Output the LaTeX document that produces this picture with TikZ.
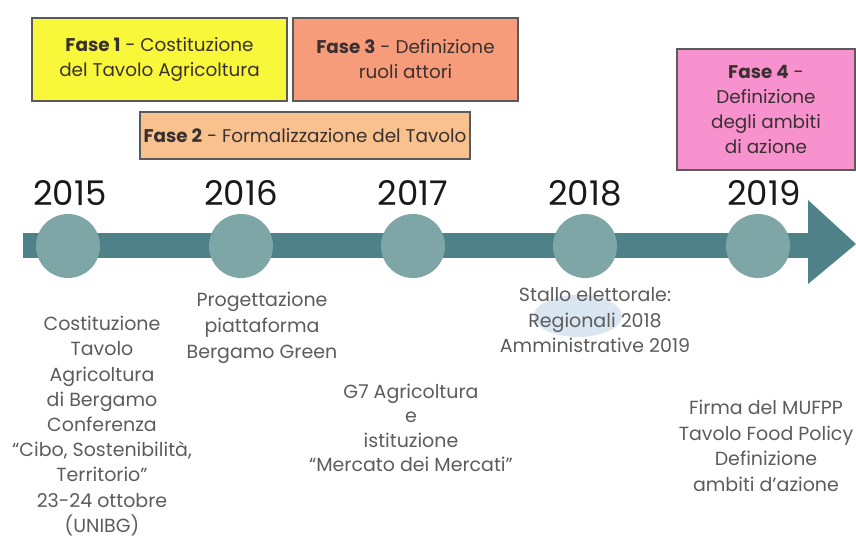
\documentclass[tikz,border=0pt]{standalone}
\usepackage{fontspec}
\setmainfont{Poppins}
\usetikzlibrary{shapes.geometric}
\definecolor{barcol}{HTML}{4F8189}
\definecolor{dotcol}{HTML}{7FA6A6}
\definecolor{yel}{HTML}{F8F73A}
\definecolor{salmon}{HTML}{F79C7A}
\definecolor{peach}{HTML}{F8C18E}
\definecolor{pinkc}{HTML}{F792CF}
\definecolor{boxline}{HTML}{5A5A5A}
\definecolor{txt}{HTML}{5C5C5C}
\definecolor{boxtxt}{HTML}{3A3030}
\definecolor{blob}{HTML}{D3E0F0}
\tikzset{
  phase/.style={draw=boxline, line width=1.4pt, inner sep=0pt, align=center, text=boxtxt, font=\fontsize{18.4}{25}\selectfont},
  year/.style={font=\fontsize{34}{34}\selectfont, text=black!90},
  dot/.style={circle, fill=dotcol, minimum size=64pt, inner sep=0pt},
  note/.style={align=center, text=txt, font=\fontsize{19}{25.8}\selectfont, inner sep=0pt}
}
\begin{document}
\begin{tikzpicture}[x=1pt,y=-1pt]
\useasboundingbox (0,0) rectangle (856,543);
\fill[white] (0,0) rectangle (856,543);
% phase boxes
\node[phase, fill=yel, minimum width=255pt, minimum height=83pt] (f1) at (159.5,59.5) {\textbf{Fase 1} - Costituzione\\del Tavolo Agricoltura};
\node[phase, fill=salmon, minimum width=225pt, minimum height=83pt] (f3) at (405.5,59.5) {\textbf{Fase 3} - Definizione\\ruoli attori};
\node[phase, fill=peach, minimum width=330pt, minimum height=47pt] (f2) at (305,135.5) {\textbf{Fase 2} - Formalizzazione del Tavolo};
\node[phase, fill=pinkc, minimum width=178pt, minimum height=121pt] (f4) at (766,109.5) {\textbf{Fase 4} -\\Definizione\\degli ambiti\\di azione};
% timeline
\fill[barcol] (23,233) rectangle (810,258);
\fill[barcol] (808,200) -- (856,244) -- (808,284) -- cycle;
\node[dot] (d1) at (68,246) {};
\node[dot] (d2) at (241,246) {};
\node[dot] (d3) at (413,246) {};
\node[dot] (d4) at (585,246) {};
\node[dot] (d5) at (758,246) {};
% years
\node[year] (y1) at (70,193) {2015};
\node[year] (y2) at (241,193) {2016};
\node[year] (y3) at (413,193) {2017};
\node[year] (y4) at (585,193) {2018};
\node[year] (y5) at (764,193) {2019};
% blob
\fill[blob, opacity=0.8] (578,316) ellipse (44pt and 21pt);
% notes
\node[note, anchor=north, font=\fontsize{19}{25.2}\selectfont] (n1) at (102,316) {Costituzione\\Tavolo\\Agricoltura\\di Bergamo\\Conferenza\\“Cibo, Sostenibilità,\\Territorio”\\23-24 ottobre\\(UNIBG)};
\node[note, anchor=north] (n2) at (262,292) {Progettazione\\piattaforma\\Bergamo Green};
\node[note, anchor=north, font=\fontsize{19}{24.3}\selectfont] (n3) at (411,384) {G7 Agricoltura\\e\\istituzione\\“Mercato dei Mercati”};
\node[note, anchor=north] (n4) at (595,287) {Stallo elettorale:\\Regionali 2018\\Amministrative 2019};
\node[note, anchor=north, font=\fontsize{19}{25.5}\selectfont] (n5) at (766,400) {Firma del MUFPP\\Tavolo Food Policy\\Definizione\\ambiti d'azione};
\end{tikzpicture}
\end{document}
